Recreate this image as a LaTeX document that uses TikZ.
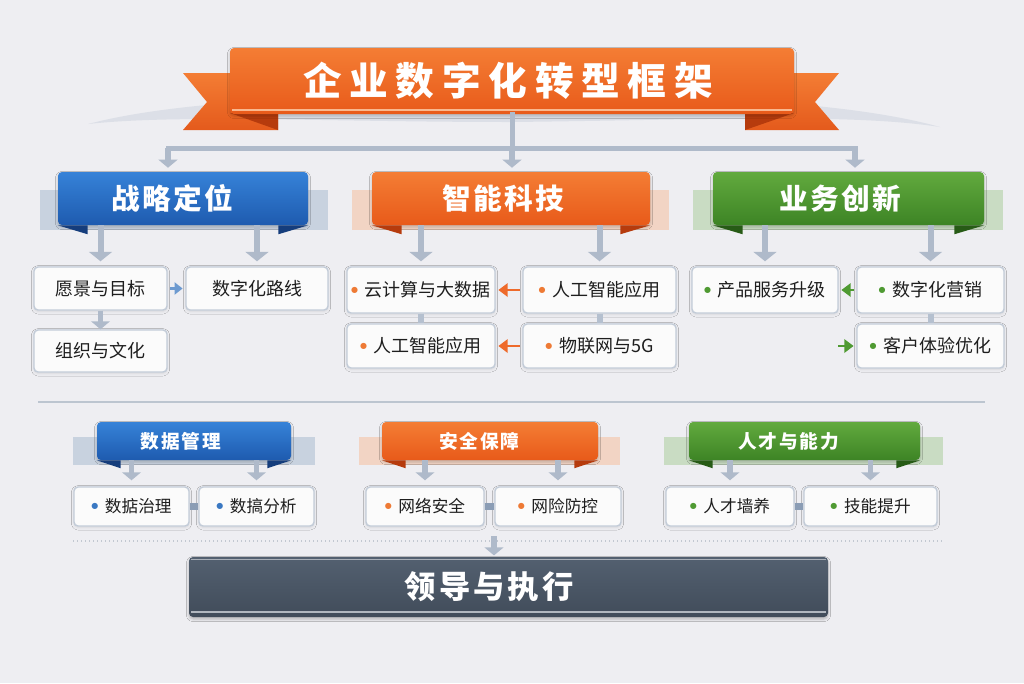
\documentclass[tikz,border=0pt]{standalone}
\usepackage{fontspec}
\setmainfont{Noto Sans CJK SC}
\newfontfamily\symf{DejaVu Sans}
\newfontfamily\fTitle[LetterSpace=20]{Noto Sans CJK SC}
\newfontfamily\fHead[LetterSpace=8]{Noto Sans CJK SC}
\newfontfamily\fSub[LetterSpace=10]{Noto Sans CJK SC}
\newfontfamily\fBot[LetterSpace=10]{Noto Sans CJK SC}
\usetikzlibrary{arrows.meta,shadows.blur}
\definecolor{bgc}{HTML}{EEEEF2}
\definecolor{swoosh}{HTML}{B3BDCD}
\definecolor{arrgray}{HTML}{AFBACA}
\definecolor{bargray}{HTML}{B5C0CF}
\definecolor{hbargray}{HTML}{8B9DB5}
\definecolor{boxbd}{HTML}{C3CCD8}
\definecolor{boxfill}{HTML}{FBFBFB}
\definecolor{txt}{HTML}{1E1E1E}
\definecolor{orT}{HTML}{F47D34}
\definecolor{orB}{HTML}{E85A1A}
\definecolor{orFold}{HTML}{B63B0D}
\definecolor{orBand}{HTML}{F2D4C4}
\definecolor{orTail}{HTML}{E45A1C}
\definecolor{blT}{HTML}{3682D8}
\definecolor{blB}{HTML}{1E5BAF}
\definecolor{blFold}{HTML}{153D7C}
\definecolor{blBand}{HTML}{C8D2DF}
\definecolor{grT}{HTML}{62AA3E}
\definecolor{grB}{HTML}{3D8425}
\definecolor{grFold}{HTML}{275B16}
\definecolor{grBand}{HTML}{C9DCC3}
\definecolor{bulor}{HTML}{EE7A35}
\definecolor{bulbl}{HTML}{3A78C2}
\definecolor{bulgr}{HTML}{4F9A32}
\definecolor{arrbl}{HTML}{6D9AD0}
\definecolor{arror}{HTML}{EE6A2B}
\definecolor{arrgr}{HTML}{4F9A32}
\definecolor{botT}{HTML}{536070}
\definecolor{botB}{HTML}{414C5A}
\definecolor{dotc}{HTML}{C2C8D1}
\definecolor{sepc}{HTML}{BCC5D0}
\newcommand\pxu{0.75pt}
\newcommand\bul[1]{\raisebox{3pt}{\color{#1}\symf\fontsize{6}{6}\selectfont ●}\hspace{5pt}}
\begin{document}
\begin{tikzpicture}[x=0.75pt,y=-0.75pt,
  bus/.style={draw=arrgray, line width=3.75pt, line cap=rect},
  garrow/.style={draw=arrgray, line width=4.5pt, -{Triangle[width=17pt,length=7pt]}},
  sarrow/.style={draw=arrgray, line width=4pt, -{Triangle[width=14pt,length=6pt]}},
  gbar/.style={draw=bargray, line width=4.5pt},
  hbar/.style={draw=hbargray, line width=5pt},
  barrow/.style={draw=arrbl, line width=2.4pt, -{Triangle[width=9pt,length=6pt]}},
  oarrow/.style={draw=arror, line width=2.2pt, -{Triangle[width=10pt,length=7pt]}},
  grarrow/.style={draw=arrgr, line width=2.2pt, -{Triangle[width=10pt,length=7pt]}},
  cbox/.style={draw=boxbd, line width=1.1pt, fill=boxfill, rounded corners=3pt,
    blur shadow={shadow xshift=0pt, shadow yshift=-1pt, shadow opacity=10, shadow blur radius=2pt},
    text=txt, inner sep=0pt, font=\fontsize{13.5}{15}\selectfont},
  sbox/.style={cbox, font=\fontsize{12.5}{14}\selectfont},
  hbox/.style={rounded corners=3pt, text=white, inner sep=0pt,
    blur shadow={shadow xshift=0pt, shadow yshift=-1.5pt, shadow opacity=20, shadow blur radius=2pt}},
  hblue/.style={top color=blT, bottom color=blB},
  horange/.style={top color=orT, bottom color=orB},
  hgreen/.style={top color=grT, bottom color=grB},
  hfont/.style={font=\fHead\bfseries\fontsize{21.5}{24}\selectfont},
  sfont/.style={font=\fSub\bfseries\fontsize{14}{16}\selectfont}
]
\useasboundingbox (0,0) rectangle (1024,683);
\fill[bgc] (0,0) rectangle (1024,683);

% ---------- title ----------
\shade[left color=swoosh!30!bgc, middle color=swoosh, right color=swoosh!30!bgc]
  (88,124) .. controls (180,100) and (330,95) .. (511,95)
  .. controls (700,95) and (850,102) .. (940,127)
  .. controls (850,113) and (700,120) .. (511,122)
  .. controls (330,122) and (180,114) .. (88,124) -- cycle;
\shade[top color=orT, bottom color=orTail] (240,73) -- (183,73) -- (207,102) -- (183,130) -- (278,130) -- (278,114) -- cycle;
\shade[top color=orT, bottom color=orTail] (784,73) -- (839,73) -- (815,102) -- (839,130) -- (745,130) -- (745,114) -- cycle;
\fill[orFold] (230,113) -- (278,113) -- (278,130) -- cycle;
\fill[orFold] (794,113) -- (745,113) -- (745,130) -- cycle;
\node[hbox, horange, minimum width=564*\pxu, minimum height=66*\pxu,
  font=\fTitle\bfseries\fontsize{29}{32}\selectfont] (title) at (512,81) {\hspace*{-6pt}企业数字化转型框架};
\draw[orT!55!white, line width=1.5pt] ([xshift=2pt,yshift=3pt]title.south west) -- ([xshift=-2pt,yshift=3pt]title.south east);

% ---------- bus ----------
\coordinate (b1) at (168,148);
\coordinate (b3) at (855,148);
\draw[bus] (title.south) -- (title.south |- b1);
\draw[bus] (b1) -- (b3);

% ---------- row 1 bands ----------
\fill[blBand] (40,190) rectangle (328,230);
\fill[orBand] (352,190) rectangle (669,230);
\fill[grBand] (693,190) rectangle (1003,230);

% ---------- row 1 headers ----------
\node[hbox, hblue, hfont, minimum width=250*\pxu, minimum height=53*\pxu] (h1) at (183,198.5) {\hspace*{-16pt}战略定位};
\node[hbox, horange, hfont, minimum width=278*\pxu, minimum height=53*\pxu] (h2) at (511,198.5) {\hspace*{-12pt}智能科技};
\node[hbox, hgreen, hfont, minimum width=271*\pxu, minimum height=53*\pxu] (h3) at (848.5,198.5) {\hspace*{-12pt}业务创新};
\fill[blFold] (h1.south west) -- ++(30,0) -- ++(0,9) -- cycle;
\fill[blFold] (h1.south east) -- ++(-30,0) -- ++(0,9) -- cycle;
\fill[orFold] (h2.south west) -- ++(30,0) -- ++(0,9) -- cycle;
\fill[orFold] (h2.south east) -- ++(-30,0) -- ++(0,9) -- cycle;
\fill[grFold] (h3.south west) -- ++(30,0) -- ++(0,9) -- cycle;
\fill[grFold] (h3.south east) -- ++(-30,0) -- ++(0,9) -- cycle;

\draw[sarrow, shorten >=3pt] (b1) -- (b1 |- h1.north);
\draw[sarrow, shorten >=3pt] (title.south |- b1) -- (title.south |- h2.north);
\draw[sarrow, shorten >=3pt] (b3) -- (b3 |- h3.north);

% ---------- row 1 children ----------
\node[cbox, minimum width=133*\pxu, minimum height=43*\pxu] (c11) at (100.5,288.5) {愿景与目标};
\node[cbox, minimum width=142*\pxu, minimum height=43*\pxu] (c12) at (257,288.5) {数字化路线};
\node[cbox, minimum width=133*\pxu, minimum height=42*\pxu] (c13) at (100.5,351) {组织与文化};

\node[cbox, minimum width=148*\pxu, minimum height=46*\pxu] (c21) at (421,290) {\bul{bulor}云计算与大数据};
\node[cbox, minimum width=153*\pxu, minimum height=46*\pxu] (c22) at (599.5,290) {\bul{bulor}人工智能应用};
\node[cbox, minimum width=148*\pxu, minimum height=44*\pxu] (c23) at (421,346) {\bul{bulor}人工智能应用};
\node[cbox, minimum width=153*\pxu, minimum height=44*\pxu] (c24) at (599.5,346) {\bul{bulor}物联网与5G};

\node[cbox, minimum width=146*\pxu, minimum height=46*\pxu] (c31) at (765,290) {\bul{bulgr}产品服务升级};
\node[cbox, minimum width=147*\pxu, minimum height=46*\pxu] (c32) at (930.5,290) {\bul{bulgr}数字化营销};
\node[cbox, minimum width=147*\pxu, minimum height=44*\pxu] (c33) at (930.5,346) {\bul{bulgr}客户体验优化};

% header -> children arrows
\draw[garrow, shorten >=3.75pt] (h1.south -| c11.north) -- (c11.north);
\draw[garrow, shorten >=3.75pt] (h1.south -| c12.north) -- (c12.north);
\draw[garrow, shorten >=3.75pt] (h2.south -| c21.north) -- (c21.north);
\draw[garrow, shorten >=3.75pt] (h2.south -| c22.north) -- (c22.north);
\draw[garrow, shorten >=3.75pt] (h3.south -| c31.north) -- (c31.north);
\draw[garrow, shorten >=3.75pt] (h3.south -| c32.north) -- (c32.north);

% child connectors
\draw[barrow, shorten <=2pt, shorten >=2pt] (c11.east) -- (c12.west);
\draw[sarrow] (c11.south) -- (c13.north);
\draw[gbar] (c21.south) -- (c23.north);
\draw[gbar] (c22.south) -- (c24.north);
\draw[oarrow, shorten <=2pt, shorten >=2pt] (c22.west) -- (c21.east);
\draw[oarrow, shorten <=2pt, shorten >=2pt] (c24.west) -- (c23.east);
\draw[gbar] (c32.south) -- (c33.north);
\draw[grarrow, shorten <=2pt, shorten >=2pt] (c32.west) -- (c31.east);
\coordinate (gfree) at (838,346);
\draw[grarrow, shorten >=2pt] (gfree) -- (c33.west);

% ---------- separator ----------
\draw[sepc, line width=1.6pt] (38,402) -- (985,402);

% ---------- section 2 ----------
\fill[blBand] (73,437) rectangle (315,465);
\fill[orBand] (359,437) rectangle (620,465);
\fill[grBand] (664,437) rectangle (943,465);

\node[hbox, hblue, sfont, minimum width=194*\pxu, minimum height=38*\pxu] (d1) at (194,441) {\hspace*{-20pt}数据管理};
\node[hbox, horange, sfont, minimum width=216*\pxu, minimum height=38*\pxu] (d2) at (490,441) {\hspace*{-16pt}安全保障};
\node[hbox, hgreen, sfont, minimum width=231*\pxu, minimum height=38*\pxu] (d3) at (804.5,441) {\hspace*{-24pt}人才与能力};
\fill[blFold] (d1.south west) -- ++(24,0) -- ++(0,8) -- cycle;
\fill[blFold] (d1.south east) -- ++(-24,0) -- ++(0,8) -- cycle;
\fill[orFold] (d2.south west) -- ++(24,0) -- ++(0,8) -- cycle;
\fill[orFold] (d2.south east) -- ++(-24,0) -- ++(0,8) -- cycle;
\fill[grFold] (d3.south west) -- ++(24,0) -- ++(0,8) -- cycle;
\fill[grFold] (d3.south east) -- ++(-24,0) -- ++(0,8) -- cycle;

\node[sbox, minimum width=115*\pxu, minimum height=39*\pxu] (e1) at (131.5,506.5) {\bul{bulbl}数掂治理};
\node[sbox, minimum width=115*\pxu, minimum height=39*\pxu] (e2) at (256.5,506.5) {\bul{bulbl}数搞分析};
\node[sbox, minimum width=118*\pxu, minimum height=39*\pxu] (e3) at (425,506.5) {\bul{bulor}网络安全};
\node[sbox, minimum width=126*\pxu, minimum height=39*\pxu] (e4) at (558,506.5) {\bul{bulor}网险防控};
\node[sbox, minimum width=128*\pxu, minimum height=39*\pxu] (e5) at (730,506.5) {\bul{bulgr}人才墙养};
\node[sbox, minimum width=133*\pxu, minimum height=39*\pxu] (e6) at (870.5,506.5) {\bul{bulgr}技能提升};

\draw[sarrow, shorten >=4.5pt] (d1.south -| e1.north) -- (e1.north);
\draw[sarrow, shorten >=4.5pt] (d1.south -| e2.north) -- (e2.north);
\draw[sarrow, shorten >=4.5pt] (d2.south -| e3.north) -- (e3.north);
\draw[sarrow, shorten >=4.5pt] (d2.south -| e4.north) -- (e4.north);
\draw[sarrow, shorten >=4.5pt] (d3.south -| e5.north) -- (e5.north);
\draw[sarrow, shorten >=4.5pt] (d3.south -| e6.north) -- (e6.north);

\draw[hbar] (e1.east) -- (e2.west);
\draw[hbar] (e3.east) -- (e4.west);
\draw[hbar] (e5.east) -- (e6.west);

% ---------- bottom ----------
\draw[dotc, line width=1pt, dotted] (73,541) -- (943,541);
\node[rounded corners=3pt, top color=botT, bottom color=botB, text=white, inner sep=0pt,
  blur shadow={shadow xshift=0pt, shadow yshift=-1.5pt, shadow opacity=25, shadow blur radius=2pt},
  minimum width=639*\pxu, minimum height=60*\pxu,
  font=\fBot\bfseries\fontsize{23.5}{26}\selectfont] (f) at (508.5,587) {\hspace*{-29pt}领导与执行};
\draw[botT!50!white, line width=1.2pt] ([xshift=2pt,yshift=-2pt]f.north west) -- ([xshift=-2pt,yshift=-2pt]f.north east);
\draw[botT!45!white, line width=1.5pt] ([xshift=2pt,yshift=4pt]f.south west) -- ([xshift=-2pt,yshift=4pt]f.south east);
\coordinate (dl) at (494,536);
\draw[sarrow, shorten >=1pt] (dl) -- (dl |- f.north);
\end{tikzpicture}
\end{document}
